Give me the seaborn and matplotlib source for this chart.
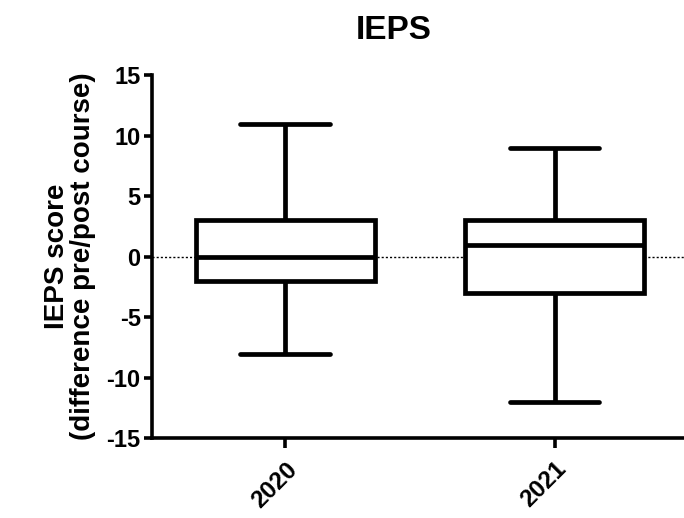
import pandas as pd
import matplotlib.pyplot as plt
import seaborn as sns

# five-number summaries (min, Q1, median, Q3, max)
years = ["2020", "2021"]
scores_2020 = [-8, -2, 0, 3, 11]
scores_2021 = [-12, -3, 1, 3, 9]

df = pd.DataFrame({
    "year": [years[0]] * len(scores_2020) + [years[1]] * len(scores_2021),
    "score": scores_2020 + scores_2021,
})

sns.set_style("ticks", {"axes.edgecolor": "black", "text.color": "black",
                        "xtick.color": "black", "ytick.color": "black",
                        "axes.labelcolor": "black"})
plt.rcParams["font.family"] = ["Liberation Sans", "DejaVu Sans"]
plt.rcParams["font.weight"] = "bold"
plt.rcParams["axes.unicode_minus"] = False

fig = plt.figure(figsize=(6.84, 5.18), dpi=100)
ax = fig.add_axes([0.222, 0.154, 0.778, 0.701])

ax.axhline(0, color="black", linestyle=(0, (1.5, 1.5)), linewidth=1, zorder=0)
sns.boxplot(data=df, x="year", y="score", whis=(0, 100), width=0.665,
            color="white", linecolor="black", linewidth=3.4, ax=ax)

ax.set_xlim(-0.495, 1.48)
ax.set_ylim(-15, 15)
ax.set_yticks([-15, -10, -5, 0, 5, 10, 15])
ax.set_title("IEPS", fontsize=24, fontweight="bold", pad=26, x=0.455)
ax.set_xlabel("")
ax.set_ylabel("IEPS score\n(difference pre/post course)", fontsize=20,
              fontweight="bold", labelpad=8, linespacing=1.0)

for s in ["top", "right"]:
    ax.spines[s].set_visible(False)
for s in ["left", "bottom"]:
    ax.spines[s].set_linewidth(2.6)
ax.tick_params(axis="y", width=2.6, length=6, labelsize=17, pad=2)
ax.tick_params(axis="x", width=2.6, length=7, labelsize=17.5, pad=7)
plt.setp(ax.get_xticklabels(), rotation=45, ha="right", rotation_mode="anchor")

fig.savefig("out.png", dpi=100)
